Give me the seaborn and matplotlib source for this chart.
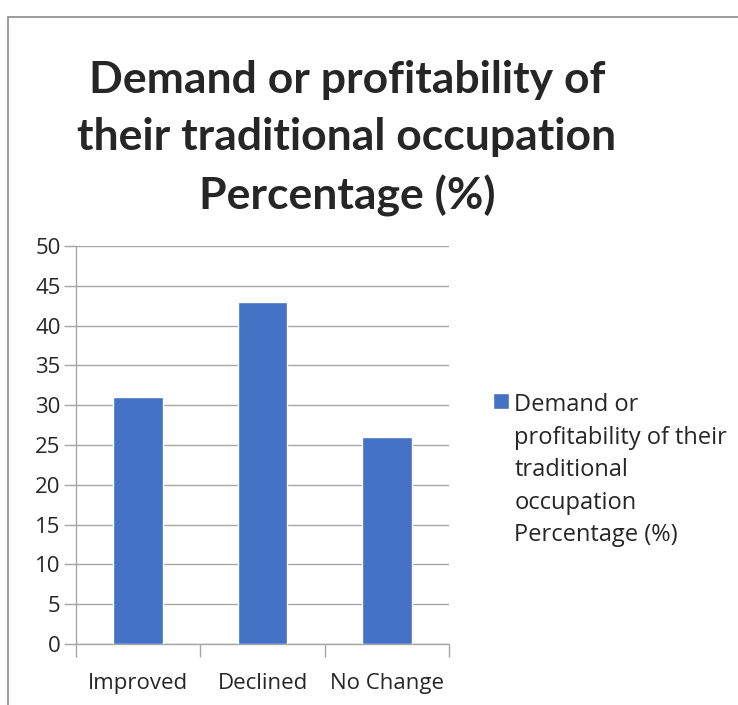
import matplotlib
matplotlib.use("Agg")
import matplotlib.pyplot as plt
import seaborn as sns
import pandas as pd

# data
categories = ["Improved", "Declined", "No Change"]
percentages = [31, 43, 26]
series_name = "Demand or profitability of their traditional occupation Percentage (%)"
y_ticks = [0, 5, 10, 15, 20, 25, 30, 35, 40, 45, 50]

sns.set_style("white")
plt.rcParams['font.family'] = ['Open Sans', 'DejaVu Sans']

df = pd.DataFrame({"Category": categories, "Value": percentages})

fig = plt.figure(figsize=(7.38, 7.05), dpi=100)
ax = fig.add_axes([76 / 738, 1 - 644 / 705, (449 - 76) / 738, (644 - 246) / 705])

sns.barplot(data=df, x="Category", y="Value", color="#4472C4", width=0.4,
            saturation=1, ax=ax, label=series_name, zorder=3)
if ax.get_legend() is not None:
    ax.get_legend().remove()

ax.set_ylim(0, 50)
ax.set_xlim(-0.5, len(categories) - 0.5)
ax.set_yticks(y_ticks)
ax.set_yticklabels([str(t) for t in y_ticks])
ax.yaxis.grid(True, color="#a6a6a6", linewidth=1, zorder=0)
ax.set_axisbelow(True)
ax.set_xlabel("")
ax.set_ylabel("")

for s in ["top", "right"]:
    ax.spines[s].set_visible(False)
for s in ["left", "bottom"]:
    ax.spines[s].set_color("#a6a6a6")
    ax.spines[s].set_linewidth(1)

# category boundary ticks like excel
ax.set_xticks([i - 0.5 for i in range(len(categories) + 1)], minor=True)
ax.tick_params(axis="x", which="minor", length=9, color="#a6a6a6", width=1, direction="out", bottom=True)
ax.tick_params(axis="x", which="major", length=0, pad=21, labelsize=16, labelcolor="#262626")
ax.tick_params(axis="y", which="major", length=9, color="#a6a6a6", width=1, direction="out", left=True,
               pad=2, labelsize=16, labelcolor="#262626")

fig.text(0.47, 1 - 60 / 705,
         "Demand or profitability of\ntheir traditional occupation\nPercentage (%)",
         ha="center", va="top", fontsize=32, fontweight="bold", linespacing=1.52,
         family=["Lato", "DejaVu Sans"])

wrapped = "Demand or\nprofitability of their\ntraditional\noccupation\nPercentage (%)"
handles, _ = ax.get_legend_handles_labels()
leg = fig.legend(handles[:1], [wrapped], loc="upper left",
                 bbox_to_anchor=(472 / 738, 1 - 372 / 705), frameon=False,
                 fontsize=17, handlelength=0.65, handleheight=0.65,
                 handletextpad=0.25, labelspacing=0.2)
for t in leg.get_texts():
    t.set_linespacing(1.47)
    t.set_color("#262626")
for col in leg._legend_handle_box.get_children():
    for item in col.get_children():
        item.align = "top"

# outer frame
fig.add_artist(plt.Rectangle((8 / 738, -0.05), 1.0, 1.05 - 17 / 705, transform=fig.transFigure,
                             fill=False, edgecolor="#8c8c8c", linewidth=1.2))

fig.savefig("out.png", dpi=100)
